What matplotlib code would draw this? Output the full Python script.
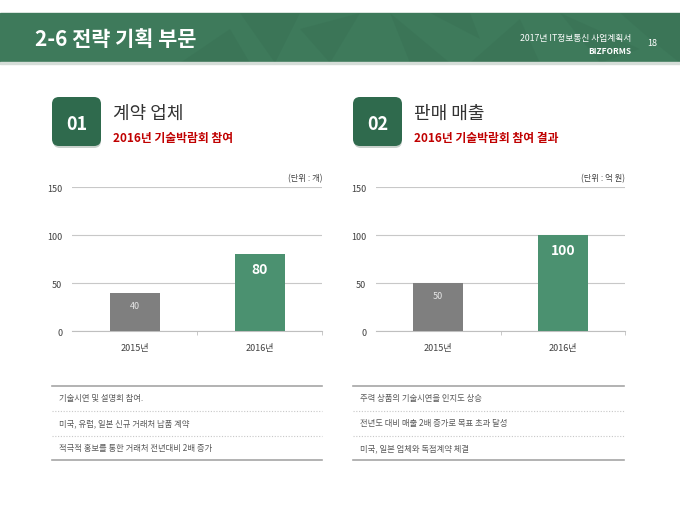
import matplotlib
matplotlib.use("Agg")
import matplotlib.pyplot as plt
from matplotlib.patches import Rectangle, FancyBboxPatch, Polygon

plt.rcParams['font.family'] = ['Noto Sans CJK KR', 'DejaVu Sans']

# data
years = ['2015년', '2016년']
partners = [40, 80]        # 계약 업체 (개)
sales = [50, 100]          # 판매 매출 (억 원)
y_ticks = [0, 50, 100, 150]

left_notes = ['기술시연 및 설명회 참여.',
              '미국, 유럽, 일본 신규 거래처 납품 계약',
              '적극적 홍보를 통한 거래처 전년대비 2배 증가']
right_notes = ['주력 상품의 기술시연을 인지도 상승',
               '전년도 대비 매출 2배 증가로 목표 초과 달성',
               '미국, 일본 업체와 독점계약 체결']

GREEN = '#4b9170'
GREY = '#7f7f7f'
W, H = 680, 510

fig = plt.figure(figsize=(6.8, 5.1), dpi=100)
fig.patch.set_facecolor('white')

# background canvas in pixel coords
bg = fig.add_axes([0, 0, 1, 1])
bg.set_xlim(0, W)
bg.set_ylim(H, 0)
bg.axis('off')

# header band with faint polygon texture
bg.add_patch(Rectangle((0, 14), W, 50, color='#3e7a5b', zorder=1))
shards = [
    [(240, 14), (300, 14), (275, 64)],
    [(300, 30), (360, 14), (330, 64)],
    [(390, 14), (450, 64), (410, 64)],
    [(430, 14), (480, 40), (470, 14)],
    [(470, 64), (520, 20), (540, 64)],
    [(560, 14), (640, 50), (600, 64)],
    [(620, 14), (680, 14), (680, 64), (650, 40)],
    [(180, 64), (230, 30), (250, 64)],
]
for pts in shards:
    bg.add_patch(Polygon(pts, closed=True, color='#2f6249', alpha=0.18, lw=0, zorder=2))
bg.add_patch(Rectangle((0, 63), W, 2, color='#d5ddd8', zorder=2))

bg.text(35, 40, '2-6 전략 기획 부문', color='white', fontsize=15, fontweight='bold',
        va='center', ha='left', zorder=3)
bg.text(631, 38, '2017년 IT정보통신 사업계획서', color='white', fontsize=6.3,
        va='center', ha='right', zorder=3)
bg.text(631, 52, 'BIZFORMS', color='white', fontsize=6, fontweight='bold',
        va='center', ha='right', zorder=3)
bg.text(647, 44, '18', color='white', fontsize=6.5, va='center', ha='left', zorder=3)

# section headings
sections = [
    (52, '01', '계약 업체', '2016년 기술박람회 참여'),
    (353, '02', '판매 매출', '2016년 기술박람회 참여 결과'),
]
for x0, num, head, sub in sections:
    bg.add_patch(FancyBboxPatch((x0 + 1, 101), 48, 48, boxstyle='round,pad=0,rounding_size=7',
                                fc='#c9d1cc', ec='none', zorder=2))
    bg.add_patch(FancyBboxPatch((x0, 98), 49, 49, boxstyle='round,pad=0,rounding_size=7',
                                fc='#2f6a4d', ec='none', zorder=3))
    bg.text(x0 + 24.5, 124, num, color='white', fontsize=13, fontweight='bold',
            ha='center', va='center', zorder=4)
    bg.text(x0 + 61, 114, head, color='#333333', fontsize=13, ha='left', va='center')
    bg.text(x0 + 61, 139, sub, color='#c00000', fontsize=8.5, fontweight='bold',
            ha='left', va='center')

# charts
def draw_chart(left, right, values, unit):
    ax = fig.add_axes([left / W, 1 - 332 / H, (right - left) / W, 144 / H])
    x = range(len(values))
    ax.bar(x, values, width=0.4, color=[GREY, GREEN], zorder=3)
    ax.set_xlim(-0.5, len(values) - 0.5)
    ax.set_ylim(0, 150)
    ax.set_yticks(y_ticks)
    ax.set_xticks(list(x))
    ax.set_xticklabels(years)
    ax.yaxis.grid(True, color='#c8c8c8', lw=0.8, zorder=0)
    for s in ['left', 'right', 'top']:
        ax.spines[s].set_visible(False)
    ax.spines['bottom'].set_color('#bfbfbf')
    ax.tick_params(axis='y', length=0, labelsize=6.5, labelcolor='#404040', pad=7)
    ax.tick_params(axis='x', length=0, labelsize=6.5, labelcolor='#404040', pad=9)
    # small separator tick between categories
    ax.set_xticks([0.5, 1.5], minor=True)
    ax.tick_params(axis='x', which='minor', length=3, color='#bfbfbf', direction='out')
    # value labels
    ax.annotate(str(values[0]), xy=(0, values[0]), xytext=(0, -9), textcoords='offset points',
                ha='center', va='center', color='#e6e6e6', fontsize=6.5, zorder=4)
    ax.annotate(str(values[1]), xy=(1, values[1]), xytext=(0, -11), textcoords='offset points',
                ha='center', va='center', color='white', fontsize=10, fontweight='bold', zorder=4)
    ax.text(1.0, 1.035, unit, transform=ax.transAxes, ha='right', va='bottom',
            fontsize=6, color='#404040')
    return ax

draw_chart(72, 322, partners, '(단위 : 개)')
draw_chart(376, 625, sales, '(단위 : 억 원)')

# note lists
for (x0, x1), notes in [((52, 322), left_notes), ((353, 624), right_notes)]:
    bg.plot([x0, x1], [387, 387], color='#a6a6a6', lw=1.2)
    bg.plot([x0, x1], [461, 461], color='#a6a6a6', lw=1.2)
    for y in (411.5, 436.5):
        bg.plot([x0, x1], [y, y], color='#c8c8c8', lw=0.8, ls=(0, (1, 1.5)))
    for i, note in enumerate(notes):
        bg.text(x0 + 7, 399 + i * 25, note, fontsize=6, color='#595959',
                ha='left', va='center')

fig.savefig('out.png', dpi=100)
